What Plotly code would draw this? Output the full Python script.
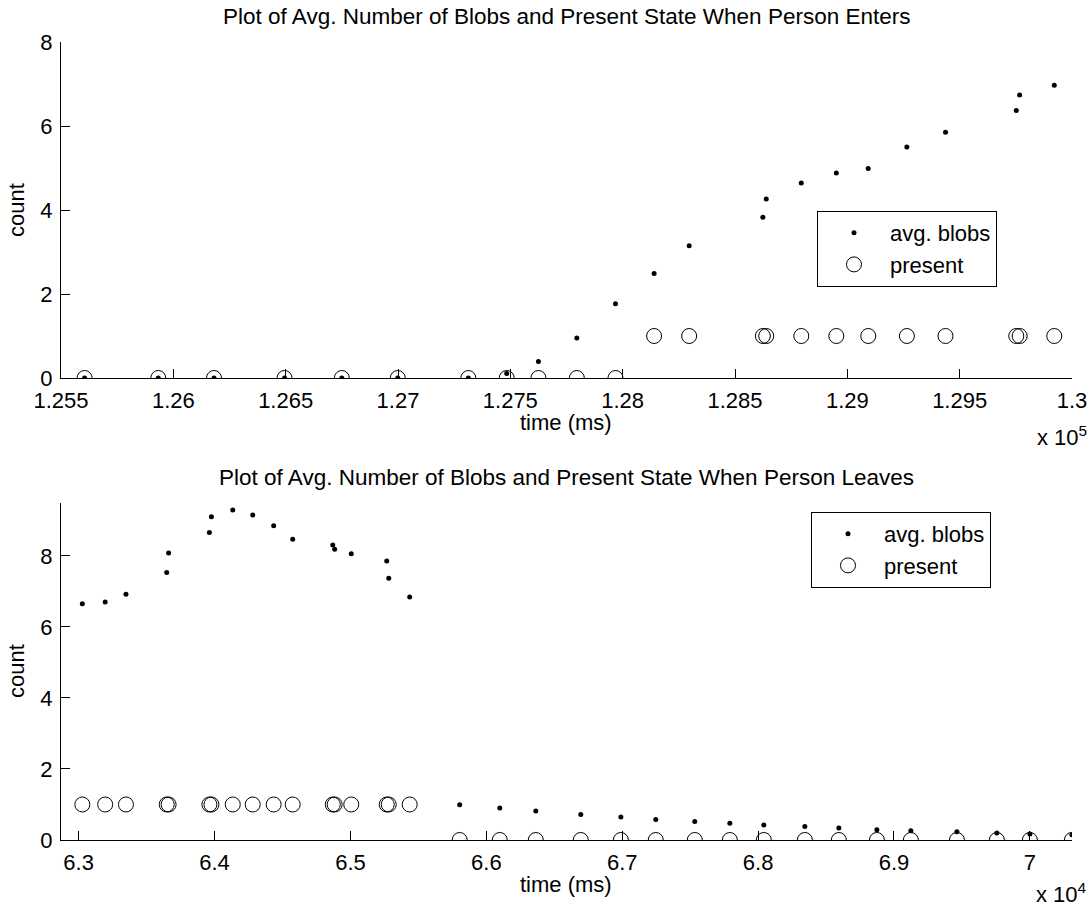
import plotly.graph_objects as go

# ---------------- data: person enters (top) ----------------
enter_time = [125605, 125933, 126181, 126495, 126750, 126999, 127313, 127484,
              127625, 127796, 127968, 128140, 128296, 128624, 128639, 128795,
              128951, 129093, 129265, 129437, 129752, 129767, 129921]
enter_blobs = [0, 0, 0, 0, 0, 0, 0, 0.11, 0.39, 0.95, 1.77, 2.49, 3.15, 3.83,
               4.26, 4.64, 4.88, 4.99, 5.50, 5.85, 6.37, 6.74, 6.97]
enter_present = [0, 0, 0, 0, 0, 0, 0, 0, 0, 0, 0, 1, 1, 1, 1, 1, 1, 1, 1, 1, 1, 1, 1]

# ---------------- data: person leaves (bottom) ----------------
leave_time = [63027, 63195, 63348, 63648, 63662, 63962, 63977, 64134, 64281,
              64435, 64575, 64870, 64884, 65006, 65267, 65282, 65436, 65804,
              66099, 66364, 66695, 66990, 67247, 67534, 67792, 68042, 68344,
              68594, 68874, 69124, 69463, 69757, 70000, 70309]
leave_blobs = [6.65, 6.70, 6.92, 7.53, 8.08, 8.66, 9.10, 9.29, 9.15, 8.85, 8.47,
               8.31, 8.19, 8.06, 7.86, 7.37, 6.84, 0.99, 0.90, 0.82, 0.72, 0.65,
               0.58, 0.52, 0.47, 0.42, 0.38, 0.34, 0.29, 0.26, 0.23, 0.20, 0.17, 0.15]
leave_present = [1] * 17 + [0] * 17

top_xticks = [125500, 126000, 126500, 127000, 127500, 128000, 128500, 129000, 129500, 130000]
top_xtext = ["1.255", "1.26", "1.265", "1.27", "1.275", "1.28", "1.285", "1.29", "1.295", "1.3"]
bot_xticks = [63000, 64000, 65000, 66000, 67000, 68000, 69000, 70000]
bot_xtext = ["6.3", "6.4", "6.5", "6.6", "6.7", "6.8", "6.9", "7"]
yticks = [0, 2, 4, 6, 8]

W, H = 1091, 909
FONT = "Liberation Sans, Arial, Helvetica, sans-serif"
FS = 22
TFS = 22.5
LFS = 22

def px_x(p):
    return p / W

def px_y(p):
    return 1 - p / H

fig = go.Figure()

dot = dict(symbol="circle", size=5, color="black")
ring = dict(symbol="circle-open", size=15, color="black", line=dict(width=1, color="black"))

fig.add_trace(go.Scatter(x=enter_time, y=enter_blobs, mode="markers", marker=dot,
                         name="avg. blobs", xaxis="x", yaxis="y", legend="legend"))
fig.add_trace(go.Scatter(x=enter_time, y=enter_present, mode="markers", marker=ring,
                         name="present", xaxis="x", yaxis="y", legend="legend"))
fig.add_trace(go.Scatter(x=leave_time, y=leave_blobs, mode="markers", marker=dot,
                         name="avg. blobs", xaxis="x2", yaxis="y2", legend="legend2"))
fig.add_trace(go.Scatter(x=leave_time, y=leave_present, mode="markers", marker=ring,
                         name="present", xaxis="x2", yaxis="y2", legend="legend2"))

axis_common = dict(showline=True, linecolor="black", linewidth=1, ticks="inside",
                   ticklen=9, tickcolor="black", showgrid=False, zeroline=False,
                   automargin=False, ticklabelstandoff=3,
                   tickfont=dict(family=FONT, size=FS, color="black"), mirror=False)

txt = dict(family=FONT, size=FS, color="black")
ttxt = dict(family=FONT, size=TFS, color="black")
ltxt = dict(family=FONT, size=LFS, color="black")


def label(text, x, y, font=txt, xanchor="center", angle=0):
    return dict(text=text, x=px_x(x), y=px_y(y), xref="paper", yref="paper",
                xanchor=xanchor, yanchor="middle", textangle=angle,
                showarrow=False, font=font)


fig.update_layout(
    width=W, height=H,
    margin=dict(l=0, r=0, t=0, b=0, pad=0, autoexpand=False),
    paper_bgcolor="white", plot_bgcolor="white",
    font=dict(family=FONT, color="black", size=FS),
    xaxis=dict(domain=[px_x(61), px_x(1072)], range=[125500, 130000],
               tickvals=top_xticks, ticktext=top_xtext, anchor="y",
               **axis_common),
    yaxis=dict(domain=[px_y(378), px_y(42)], range=[0, 8], tickvals=yticks,
               anchor="x", **axis_common),
    xaxis2=dict(domain=[px_x(61), px_x(1072)], range=[62870, 70310],
                tickvals=bot_xticks, ticktext=bot_xtext, anchor="y2",
                **axis_common),
    yaxis2=dict(domain=[px_y(840), px_y(503)], range=[0, 9.49], tickvals=yticks,
                anchor="x2", **axis_common),
    legend=dict(x=px_x(817), y=px_y(211), xanchor="left", yanchor="top",
                bgcolor="white", bordercolor="black", borderwidth=1,
                font=ltxt, itemwidth=62, tracegroupgap=0),
    legend2=dict(x=px_x(811), y=px_y(512), xanchor="left", yanchor="top",
                 bgcolor="white", bordercolor="black", borderwidth=1,
                 font=ltxt, itemwidth=62, tracegroupgap=0),
    annotations=[
        label("Plot of Avg. Number of Blobs and Present State When Person Enters", 566, 16.5, ttxt),
        label("Plot of Avg. Number of Blobs and Present State When Person Leaves", 566, 477, ttxt),
        label("time (ms)", 566, 422),
        label("time (ms)", 566, 884),
        label("count", 16, 210, angle=-90),
        label("count", 16, 671, angle=-90),
        label("x 10<sup>5</sup>", 1089, 436, xanchor="right"),
        label("x 10<sup>4</sup>", 1089, 893, xanchor="right"),
    ],
)

fig.write_html("out.html")
